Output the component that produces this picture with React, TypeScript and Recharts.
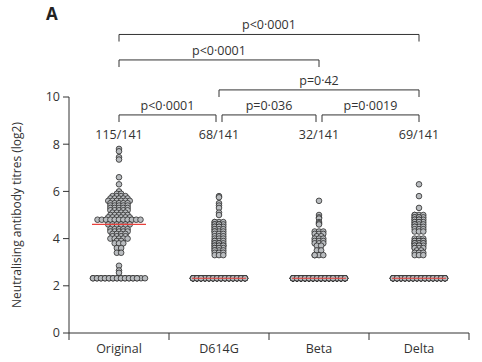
import { ScatterChart, Scatter, XAxis, YAxis, ReferenceLine, ReferenceDot } from 'recharts';

const categories = ['Original', 'D614G', 'Beta', 'Delta'];
const responders = ['115/141', '68/141', '32/141', '69/141'];

// values at the detection limit (log2 of 5) and how many sit there per variant
const detectionLimit = 2.32;
const belowLimitCounts = [26, 73, 109, 72];

// [log2 titre, number of participants]
const originalRows: [number, number][] = [
  [7.8, 1], [7.7, 1], [7.45, 1], [7.35, 1], [6.6, 1], [6.3, 1],
  [6.0, 1], [5.9, 2], [5.8, 4], [5.7, 5], [5.6, 6], [5.5, 5], [5.4, 5], [5.3, 5],
  [5.2, 5], [5.1, 4], [5.0, 5], [4.9, 6], [4.8, 11],
  [4.6, 6], [4.5, 4], [4.4, 5], [4.3, 5], [4.2, 4], [4.1, 4], [4.0, 5], [3.9, 2],
  [3.8, 3], [3.6, 2], [3.4, 2], [2.85, 1], [2.65, 1], [2.55, 1],
];
const d614gRows: [number, number][] = [
  [5.8, 1], [5.75, 1], [5.5, 1], [5.4, 1], [5.3, 1], [5.1, 1], [5.0, 1],
  [4.7, 4], [4.6, 5], [4.5, 5], [4.4, 4], [4.3, 4], [4.2, 3], [4.1, 3], [4.0, 3],
  [3.9, 4], [3.8, 5], [3.7, 6], [3.6, 5], [3.5, 4], [3.4, 3], [3.3, 3],
];
const betaRows: [number, number][] = [
  [5.6, 1], [5.0, 1], [4.9, 1], [4.85, 1], [4.7, 1], [4.65, 1], [4.6, 1],
  [4.3, 3], [4.2, 3], [4.1, 2], [4.0, 3], [3.9, 3], [3.8, 3], [3.7, 2], [3.5, 2], [3.3, 4],
];
const deltaRows: [number, number][] = [
  [6.3, 1], [5.8, 1], [5.3, 1],
  [5.0, 4], [4.9, 5], [4.8, 5], [4.7, 5], [4.6, 4], [4.5, 4], [4.4, 3], [4.3, 3],
  [4.0, 3], [3.9, 6], [3.8, 7], [3.7, 5], [3.6, 4], [3.5, 2], [3.4, 3], [3.3, 3],
];

const comparisons = [
  { a: 0, b: 3, level: 12.65, p: 'p<0·0001' },
  { a: 0, b: 2, level: 11.57, p: 'p<0·0001' },
  { a: 1, b: 3, level: 10.3, p: 'p=0·42' },
  { a: 0, b: 1, level: 9.24, p: 'p<0·0001' },
  { a: 1, b: 2, level: 9.24, p: 'p=0·036' },
  { a: 2, b: 3, level: 9.24, p: 'p=0·0019' },
];

const allRows = [originalRows, d614gRows, betaRows, deltaRows];

const FONT = '"Open Sans", sans-serif';
const PX_PER_UNIT = 100;
// swarm spread (px): half width of a row of dots
const rowHalf = [24, 5, 5, 5];
const BASE_HALF = 26;
const GAP = 4.3;

function spread(n: number, half: number, gap: number) {
  const slots = Math.min(n, Math.floor((2 * half) / gap) + 1);
  const out: number[] = [];
  for (let k = 0; k < n; k++) {
    const s = k % slots;
    out.push((s - (slots - 1) / 2) * gap);
  }
  return out;
}

function buildGroup(idx: number) {
  const pts: { x: number; y: number }[] = [];
  const values: number[] = [];
  allRows[idx].forEach(([v, n]) => {
    spread(n, rowHalf[idx], GAP).forEach((off) => {
      pts.push({ x: idx + 0.5 + off / PX_PER_UNIT, y: v });
      values.push(v);
    });
  });
  spread(belowLimitCounts[idx], BASE_HALF, 4).forEach((off) => {
    pts.push({ x: idx + 0.5 + off / PX_PER_UNIT, y: detectionLimit });
    values.push(detectionLimit);
  });
  values.sort((p, q) => p - q);
  const m = values.length;
  const median = m % 2 ? values[(m - 1) / 2] : (values[m / 2 - 1] + values[m / 2]) / 2;
  return { pts, median };
}

const groups = categories.map((_, i) => buildGroup(i));
const medians = groups.map((g, i) => ({ x: i + 0.5, y: g.median }));

const Dot = (p: any) => (
  <circle cx={p.cx} cy={p.cy} r={2.8} fill="#b9bcbf" stroke="#2a2a2a" strokeWidth={0.8} />
);

const MedianMark = (p: any) => (
  <line x1={p.cx - 27} x2={p.cx + 27} y1={p.cy} y2={p.cy} stroke="#e8413c" strokeWidth={1.2} />
);

const XTick = (p: any) => {
  const v = p.payload.value;
  if (Number.isInteger(v)) {
    return <line x1={p.x} x2={p.x} y1={p.y} y2={p.y + 7} stroke="#333" strokeWidth={1} />;
  }
  return (
    <text x={p.x} y={p.y + 20} textAnchor="middle" fontSize={12.5} fill="#333" fontFamily={FONT}>
      {categories[Math.floor(v)]}
    </text>
  );
};

const YLabel = (p: any) => {
  const vb = p.viewBox;
  const cy = vb.y + vb.height / 2;
  return (
    <text x={16} y={cy} transform={`rotate(-90 16 ${cy})`} textAnchor="middle" dominantBaseline="central" fontSize={12} fill="#333" fontFamily={FONT}>
      Neutralising antibody titres (log2)
    </text>
  );
};

const drop = 0.3;

export default function App() {
  return (
    <div style={{ position: 'absolute', left: 0, top: 0, width: 482, height: 362, background: '#fff' }}>
      <div style={{ position: 'absolute', left: 46, top: 2, fontFamily: FONT, fontWeight: 700, fontSize: 17, color: '#222' }}>A</div>
      <ScatterChart width={482} height={362} margin={{ top: 97, right: 13, bottom: 0, left: 0 }}>
        <XAxis
          type="number"
          dataKey="x"
          domain={[0, 4]}
          ticks={[0, 0.5, 1, 1.5, 2, 2.5, 3, 3.5, 4]}
          interval={0}
          tick={XTick}
          tickLine={false}
          tickSize={0}
          tickMargin={0}
          height={29}
          axisLine={{ stroke: '#333' }}
        />
        <YAxis
          type="number"
          dataKey="y"
          domain={[0, 10]}
          ticks={[0, 2, 4, 6, 8, 10]}
          width={69}
          tickSize={6}
          tickMargin={3}
          tick={{ fontSize: 12.5, fill: '#333', fontFamily: FONT }}
          axisLine={{ stroke: '#333' }}
          tickLine={{ stroke: '#333' }}
          label={YLabel}
        />
        {groups.map((g, i) => (
          <Scatter key={categories[i]} data={g.pts} shape={Dot} isAnimationActive={false} />
        ))}
        <Scatter data={medians} shape={MedianMark} isAnimationActive={false} />
        {responders.map((r, i) => (
          <ReferenceDot
            key={`n-${i}`}
            x={i + 0.5}
            y={8.4}
            r={1}
            fill="none"
            stroke="none"
            label={{ value: r, position: 'center', fontSize: 12.5, fill: '#333', fontFamily: FONT }}
          />
        ))}
        {comparisons.map((c, i) => {
          const adjacent = c.b - c.a === 1;
          const x1 = c.a + 0.5 + (adjacent && c.a > 0 ? 0.03 : 0);
          const x2 = c.b + 0.5 - (adjacent && c.b < 3 ? 0.03 : 0);
          return [
            <ReferenceLine
              key={`h-${i}`}
              segment={[{ x: x1, y: c.level }, { x: x2, y: c.level }]}
              stroke="#333"
              strokeWidth={1}
              ifOverflow="visible"
              label={{ value: c.p, position: 'top', offset: 5, fontSize: 12.5, fill: '#333', fontFamily: FONT }}
            />,
            <ReferenceLine
              key={`l-${i}`}
              segment={[{ x: x1, y: c.level }, { x: x1, y: c.level - drop }]}
              stroke="#333"
              strokeWidth={1}
              ifOverflow="visible"
            />,
            <ReferenceLine
              key={`r-${i}`}
              segment={[{ x: x2, y: c.level }, { x: x2, y: c.level - drop }]}
              stroke="#333"
              strokeWidth={1}
              ifOverflow="visible"
            />,
          ];
        })}
      </ScatterChart>
    </div>
  );
}
